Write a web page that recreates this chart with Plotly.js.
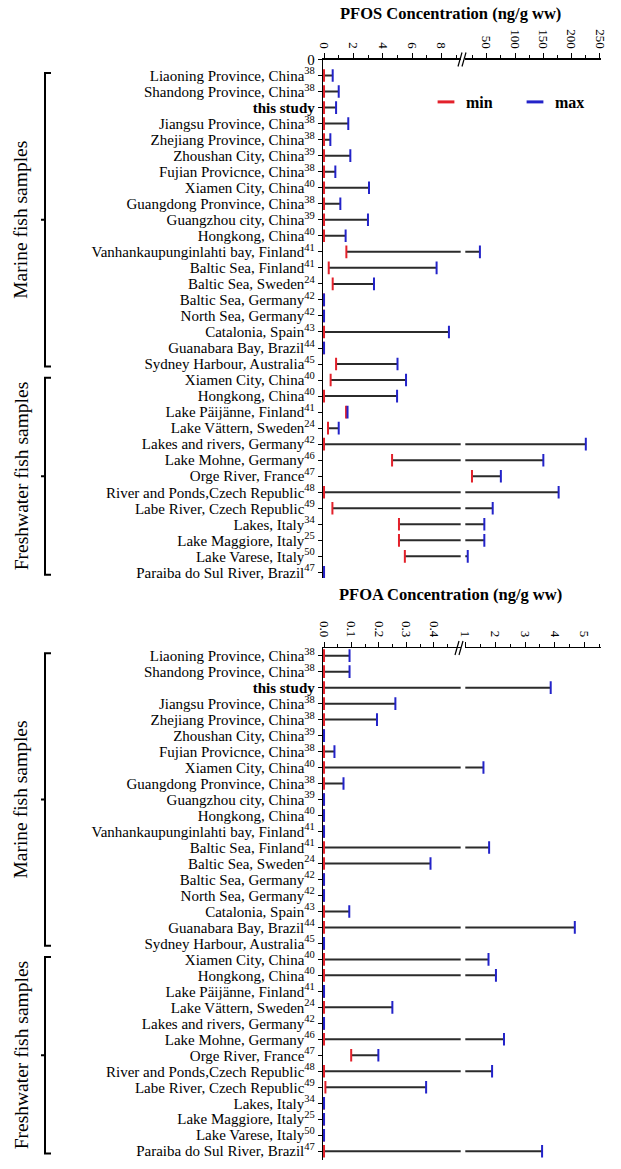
<!DOCTYPE html>
<html>
<head>
<meta charset="utf-8">
<script src="https://cdn.plot.ly/plotly-3.0.1.min.js"></script>
<style>html,body{margin:0;padding:0;background:#fff;}</style>
</head>
<body>
<div id="chart" style="width:621px;height:1169px;"></div>
<script>
// ---------- DATA ----------
const siteNames = [
  "Liaoning Province, China", "Shandong Province, China", "this study",
  "Jiangsu Province, China", "Zhejiang Province, China", "Zhoushan City, China",
  "Fujian Provicnce, China", "Xiamen City, China", "Guangdong Pronvince, China",
  "Guangzhou city, China", "Hongkong, China", "Vanhankaupunginlahti bay, Finland",
  "Baltic Sea, Finland", "Baltic Sea, Sweden", "Baltic Sea, Germany",
  "North Sea, Germany", "Catalonia, Spain", "Guanabara Bay, Brazil",
  "Sydney Harbour, Australia", "Xiamen City, China", "Hongkong, China",
  "Lake Päijänne, Finland", "Lake Vättern, Sweden", "Lakes and rivers, Germany",
  "Lake Mohne, Germany", "Orge River, France", "River and Ponds,Czech Republic",
  "Labe River, Czech Republic", "Lakes, Italy", "Lake Maggiore, Italy",
  "Lake Varese, Italy", "Paraiba do Sul River, Brazil"
];
const refNums = [
  "38","38","",
  "38","38","39",
  "38","40","38",
  "39","40","41",
  "41","24","42",
  "42","43","44",
  "45","40","40",
  "41","24","42",
  "46","47","48",
  "49","34","25",
  "50","47"
];
const highlightSite = "this study";

// PFOS concentration (ng/g ww): min and max per site
const pfosMin = [0,0,0,0,0,0,0,0,0,0,0,1.52,0.32,0.59,0,0,0,0,0.82,0.45,0,1.5,0.27,0,4.63,24,0,0.57,5.1,5.1,5.5,0];
const pfosMax = [0.59,1.0,0.82,1.65,0.43,1.79,0.77,3.06,1.11,2.99,1.47,38,7.66,3.4,0,0,8.5,0,5.0,5.58,4.97,1.6,1.0,225,150,75,177,60.6,45.8,45.8,16.5,0];

// PFOA concentration (ng/g ww): min and max per site
const pfoaMin = [0,0,0,0,0,0,0,0,0,0,0,0,0,0,0,0,0,0,0,0,0,0,0,0,0,0.099,0,0.005,0,0,0,0];
const pfoaMax = [0.093,0.093,3.86,0.26,0.193,0,0.038,1.60,0.071,0,0,0,1.79,0.388,0,0,0.092,4.67,0,1.77,2.02,0,0.249,0,2.29,0.198,1.89,0.372,0,0,0,3.57];

const groupNames = ["Marine fish samples", "Freshwater fish samples"];
const groupFirst = [1, 20];
const groupLast  = [19, 32];

const pfosTitle = "PFOS Concentration (ng/g ww)";
const pfoaTitle = "PFOA Concentration (ng/g ww)";

// ---------- BUILD ----------
const RED = "#e3212b", BLUE = "#2323c9", LINE = "#2b2b2b";
const FONT = "'Liberation Serif', 'Times New Roman', serif";
const rows = siteNames.map((_, i) => i + 1);
const labels = siteNames.map((n, i) =>
  (n === highlightSite ? "<b>" + n + "</b>" : n) + (refNums[i] ? "<sup>" + refNums[i] + "</sup>" : ""));

// pixel helpers for decorations (plot area 323..601 horizontally, 0..1169 vertically)
const L = 323, W = 278, H = 1169;
const px = x => (x - L) / W;
const py = y => 1 - y / H;

function panel(mins, maxs, xa, xb, ya) {
  const rx = [], ry = [];
  mins.forEach((m, i) => { rx.push(m, maxs[i], null); ry.push(rows[i], rows[i], null); });
  const t = [];
  [xa, xb].forEach(ax => t.push({type:"scatter", mode:"lines", x:rx, y:ry, xaxis:ax, yaxis:ya,
    line:{color:LINE, width:2}, showlegend:false, hoverinfo:"skip"}));
  [xa, xb].forEach(ax => t.push({type:"scatter", mode:"markers", x:mins, y:rows, xaxis:ax, yaxis:ya,
    marker:{symbol:"line-ns", size:9, color:RED, line:{color:RED, width:2}}, showlegend:false, hoverinfo:"x"}));
  [xa, xb].forEach(ax => t.push({type:"scatter", mode:"markers", x:maxs, y:rows, xaxis:ax, yaxis:ya,
    marker:{symbol:"line-ns", size:9, color:BLUE, line:{color:BLUE, width:2}}, showlegend:false, hoverinfo:"x"}));
  return t;
}

const traces = [
  ...panel(pfosMin, pfosMax, "x", "x2", "y"),
  ...panel(pfoaMin, pfoaMax, "x3", "x4", "y2"),
  {type:"scatter", mode:"markers", x:[null], y:[null], xaxis:"x", yaxis:"y", name:"min", legend:"legend",
   marker:{symbol:"line-ew", size:12, color:RED, line:{color:RED, width:3}}},
  {type:"scatter", mode:"markers", x:[null], y:[null], xaxis:"x", yaxis:"y", name:"max", legend:"legend2",
   marker:{symbol:"line-ew", size:12, color:BLUE, line:{color:BLUE, width:3}}}
];

const xCommon = {side:"top", ticks:"outside", ticklen:5, tickwidth:1, tickcolor:"#000",
  showline:true, linecolor:"#000", linewidth:1.2, showgrid:false, zeroline:false,
  tickangle:90, tickfont:{family:FONT, size:13, color:"#000"}};
const yCommon = {ticks:"outside", ticklen:4, tickcolor:"#000", showline:true, linecolor:"#000",
  linewidth:1.2, showgrid:false, zeroline:false, tickfont:{family:FONT, size:15, color:"#000"}};

const dLow = [0, px(460.7)], dHigh = [px(465.3), 1];

const layout = {
  width:621, height:1169,
  margin:{l:L, r:621 - L - W, t:0, b:0},
  paper_bgcolor:"#fff", plot_bgcolor:"#fff",
  font:{family:FONT, color:"#000", size:14},
  showlegend:true,
  xaxis: Object.assign({}, xCommon, {domain:dLow, anchor:"y", range:[-0.07, 9.3], tick0:0, dtick:2,
    minor:{dtick:1, ticks:"outside", ticklen:3, tickcolor:"#000"}}),
  xaxis2: Object.assign({}, xCommon, {domain:dHigh, anchor:"y", range:[12.2, 251.8], tick0:0, dtick:50,
    minor:{dtick:25, ticks:"outside", ticklen:3, tickcolor:"#000"}}),
  xaxis3: Object.assign({}, xCommon, {domain:dLow, anchor:"y2", range:[-0.0037, 0.498], tick0:0, dtick:0.1,
    tickformat:".1f", minor:{dtick:0.05, ticks:"outside", ticklen:3, tickcolor:"#000"}}),
  xaxis4: Object.assign({}, xCommon, {domain:dHigh, anchor:"y2", range:[0.99, 5.55], tick0:0, dtick:1,
    minor:{dtick:0.5, ticks:"outside", ticklen:3, tickcolor:"#000"}}),
  yaxis: Object.assign({}, yCommon, {domain:[py(578), py(59.5)], anchor:"x", range:[32.35, 0],
    tickmode:"array", tickvals:[0].concat(rows), ticktext:["0"].concat(labels)}),
  yaxis2: Object.assign({}, yCommon, {domain:[py(1160), py(648)], anchor:"x3", range:[32.55, 0.52],
    tickmode:"array", tickvals:rows, ticktext:labels}),
  legend: {x:px(426), y:py(102), xanchor:"left", yanchor:"middle", orientation:"h",
    bgcolor:"rgba(0,0,0,0)", font:{family:FONT, size:16, color:"#000", weight:"bold"}},
  legend2: {x:px(515), y:py(102), xanchor:"left", yanchor:"middle", orientation:"h",
    bgcolor:"rgba(0,0,0,0)", font:{family:FONT, size:16, color:"#000", weight:"bold"}},
  annotations: [],
  shapes: []
};

// titles
[[pfosTitle, 13], [pfoaTitle, 594]].forEach(([t, y]) => layout.annotations.push({
  text:"<b>" + t + "</b>", xref:"paper", yref:"paper", x:px(450), y:py(y),
  xanchor:"center", yanchor:"middle", showarrow:false, font:{family:FONT, size:16.5, color:"#000"}}));

// group brackets and labels for both panels
["y", "y2"].forEach(yr => {
  groupNames.forEach((g, k) => {
    const top = groupFirst[k] - 0.15, bot = groupLast[k] + 0.15, mid = (top + bot) / 2;
    layout.shapes.push({type:"path", xref:"paper", yref:yr,
      path:`M${px(51)},${top} L${px(45)},${top} L${px(45)},${bot} L${px(51)},${bot} M${px(45)},${mid} L${px(41)},${mid}`,
      line:{color:"#000", width:2}});
    layout.annotations.push({text:g, xref:"paper", yref:yr, x:px(21), y:mid, textangle:-90,
      xanchor:"center", yanchor:"middle", showarrow:false, font:{family:FONT, size:19.5, color:"#000"}});
  });
});

// axis break marks "//"
[[59.5, 0], [648, -3]].forEach(([ay, dx]) => {
  [0, 4].forEach(o => layout.shapes.push({type:"line", xref:"paper", yref:"paper",
    x0:px(458 + o + dx), y0:py(ay + 7), x1:px(462 + o + dx), y1:py(ay - 7),
    line:{color:"#000", width:1.2}}));
});

Plotly.newPlot("chart", traces, layout, {displayModeBar:false, staticPlot:true});
</script>
</body>
</html>
